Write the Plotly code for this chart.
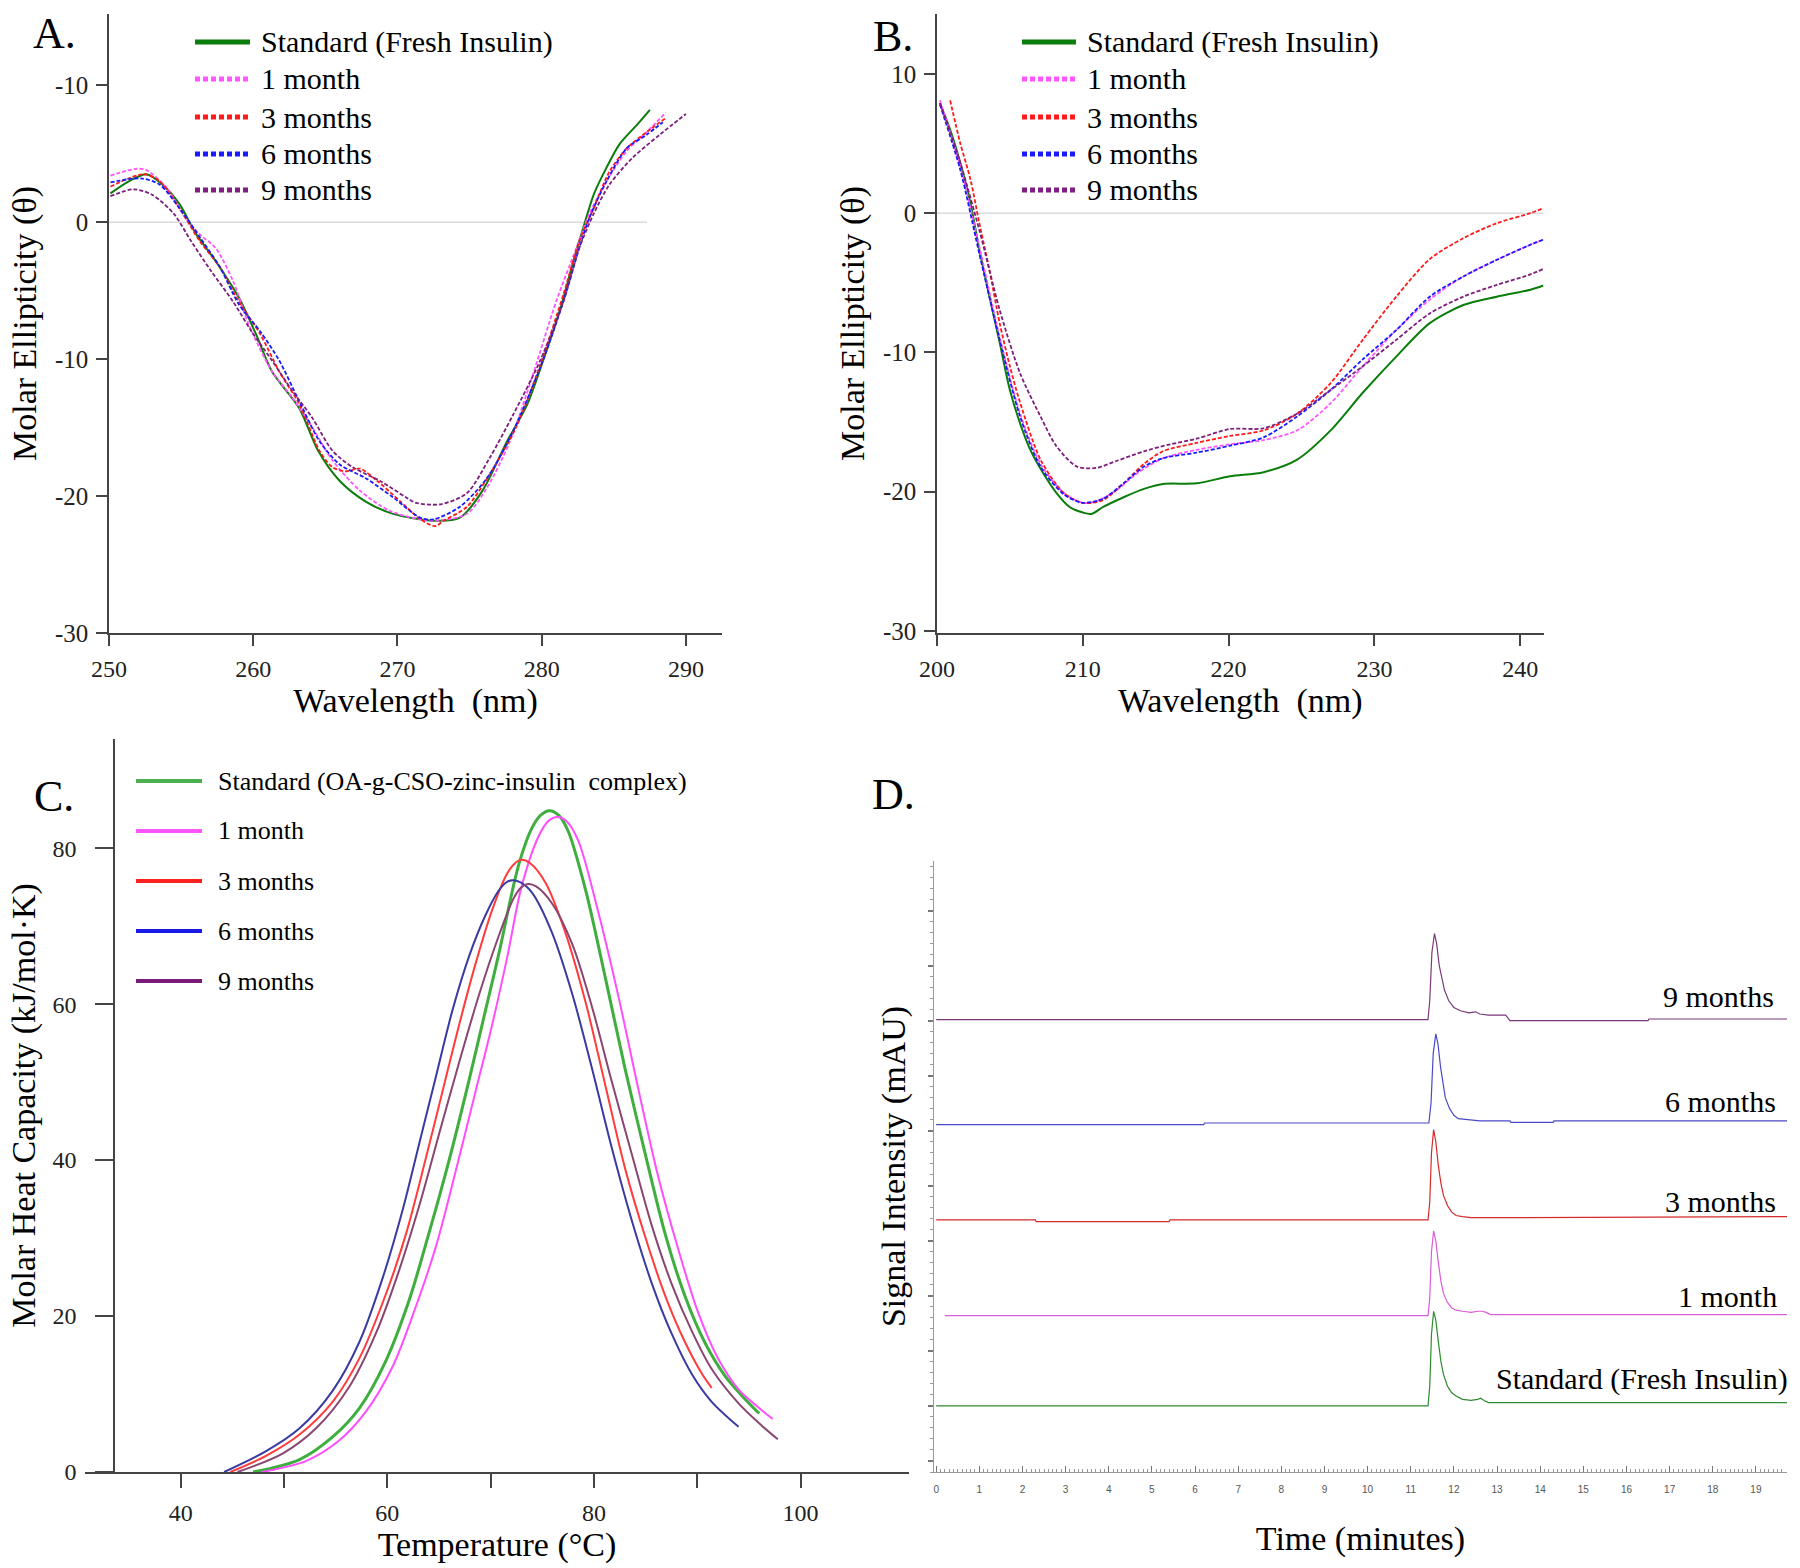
import plotly.graph_objects as go

W, H = 1800, 1568
FONT = "Liberation Serif, Times New Roman, serif"

# ---------------- Panel A : near-UV CD (250-290 nm) ----------------
A_NAMES = ["Standard (Fresh Insulin)", "1 month", "3 months", "6 months", "9 months"]
A_STD_X = [250.1, 251.4, 252.6, 253.7, 254.9, 256.0, 257.4, 259.0, 260.2, 261.3, 263.2, 264.5, 266.0, 267.8,
           269.7, 272.5, 274.3, 275.9, 277.6, 279.0, 280.1, 281.3, 282.2, 283.0, 283.6, 284.5, 285.4, 286.6, 287.5]
A_STD_Y = [2.1, 3.0, 3.5, 2.75, 1.3, -0.8, -2.85, -5.5, -8.2, -10.9, -13.6, -16.7, -18.9, -20.4,
           -21.3, -21.8, -21.6, -19.6, -16.0, -13.3, -10.1, -6.3, -2.85, 0.0, 2.0, 4.0, 5.7, 7.1, 8.2]
A_M1_X = [250.1, 251.9, 252.6, 254.0, 255.3, 256.3, 257.4, 258.6, 259.7, 261.3, 262.7, 264.1, 265.5, 267.4,
          269.5, 272.5, 274.8, 276.2, 277.8, 279.4, 281.0, 282.4, 283.3, 284.5, 285.9, 287.3, 288.6]
A_M1_Y = [3.4, 3.9, 3.8, 2.5, 0.3, -0.9, -1.9, -4.3, -7.5, -10.9, -12.8, -15.0, -17.4, -19.6,
          -21.1, -21.8, -21.3, -19.4, -16.0, -11.1, -5.8, -1.9, 0.6, 3.0, 5.2, 6.6, 8.0]
A_M3_X = [250.1, 252.4, 253.5, 254.9, 256.3, 257.7, 259.0, 260.5, 261.8, 263.2, 264.6, 265.5, 266.4, 267.4,
          268.6, 270.2, 271.6, 272.6, 273.2, 274.8, 276.4, 278.3, 279.9, 281.5, 282.6, 283.6, 284.7, 285.9,
          287.3, 288.6]
A_M3_Y = [2.6, 3.5, 3.0, 1.0, -1.4, -3.3, -5.8, -8.2, -10.9, -13.3, -16.7, -17.9, -18.2, -18.0,
          -18.9, -20.4, -21.7, -22.2, -21.8, -20.8, -18.4, -14.8, -10.4, -5.3, -1.4, 1.0, 3.7, 5.4,
          6.6, 7.6]
A_M6_X = [250.1, 252.2, 253.5, 254.9, 256.3, 257.7, 259.0, 260.5, 261.8, 263.2, 264.6, 266.0, 267.8, 269.7,
          271.6, 272.5, 274.3, 276.2, 278.0, 279.9, 281.5, 282.6, 283.3, 284.5, 285.9, 287.3, 288.4]
A_M6_Y = [2.9, 3.2, 2.75, 1.0, -1.1, -3.3, -6.0, -8.0, -10.1, -13.1, -16.0, -17.7, -18.7, -20.1,
          -21.6, -21.7, -20.8, -18.7, -15.3, -10.6, -5.8, -1.9, 0.3, 3.0, 5.4, 6.4, 7.3]
A_M9_X = [250.1, 251.7, 253.0, 254.5, 255.7, 257.1, 258.6, 259.9, 261.3, 262.7, 264.1, 265.5, 266.9, 268.8,
          270.6, 271.3, 273.0, 274.8, 276.4, 278.0, 279.9, 281.5, 282.6, 283.6, 284.7, 286.3, 288.2, 290.0]
A_M9_Y = [1.9, 2.4, 2.0, 0.6, -1.4, -3.6, -5.8, -8.0, -10.1, -12.3, -14.3, -16.7, -17.9, -18.9,
          -20.1, -20.5, -20.6, -19.8, -17.2, -14.1, -10.1, -5.8, -1.9, 0.6, 2.75, 4.7, 6.4, 7.9]
A_ZERO_X = [250, 287.3]
A_XTICKS = [250, 260, 270, 280, 290]
A_YTICKS = [-30, -20, -10, 0, 10]
A_YTEXT = ["-30", "-20", "-10", "0", "-10"]

# ---------------- Panel B : far-UV CD (200-240 nm) ----------------
B_STD_X = [200.2, 200.9, 201.6, 202.3, 202.9, 203.6, 204.3, 205.0, 205.7, 206.4, 207.3, 208.2, 209.1, 210.0,
           210.6, 211.4, 212.8, 214.2, 215.5, 217.8, 220.1, 222.4, 224.7, 227.0, 229.2, 231.5, 233.8, 236.1,
           238.4, 240.7, 241.6]
B_STD_Y = [7.9, 6.0, 3.6, 0.7, -2.6, -6.0, -9.3, -12.7, -15.1, -17.0, -18.7, -20.1, -21.1, -21.5,
           -21.6, -21.1, -20.4, -19.8, -19.45, -19.4, -18.9, -18.6, -17.7, -15.6, -12.9, -10.3, -7.9, -6.6,
           -6.0, -5.5, -5.2]
B_M1_X = [200.2, 201.6, 202.9, 204.3, 205.7, 207.1, 208.7, 210.0, 210.9, 212.3, 213.7, 215.5, 217.8, 220.1,
          222.4, 224.7, 227.0, 229.2, 231.5, 233.8, 236.1, 238.4, 240.7, 241.6]
B_M1_Y = [8.1, 3.35, -2.4, -8.9, -14.4, -18.0, -20.1, -20.8, -20.7, -19.9, -18.7, -17.6, -17.0, -16.6,
          -16.3, -15.6, -13.65, -11.0, -8.4, -6.2, -4.55, -3.35, -2.27, -1.9]
B_M3_X = [200.9, 201.6, 202.3, 202.9, 203.6, 204.3, 205.0, 205.7, 207.1, 208.7, 210.0, 211.4, 212.8, 214.2,
          215.5, 217.8, 220.1, 222.4, 224.7, 227.0, 229.2, 231.5, 233.8, 236.1, 238.4, 240.7, 241.6]
B_M3_Y = [8.1, 5.0, 2.4, -0.7, -4.1, -7.9, -11.0, -13.6, -17.7, -20.1, -20.8, -20.6, -19.4, -18.0,
          -17.1, -16.5, -16.0, -15.6, -14.4, -12.2, -9.1, -6.0, -3.3, -1.8, -0.72, 0.0, 0.36]
B_M6_X = [200.2, 201.6, 202.9, 204.3, 205.7, 207.1, 208.7, 210.0, 211.4, 212.8, 214.2, 215.5, 217.8, 220.1,
          222.4, 224.7, 227.0, 229.2, 231.5, 233.8, 236.1, 238.4, 240.7, 241.6]
B_M6_Y = [7.8, 3.1, -2.9, -9.1, -14.6, -18.2, -20.2, -20.8, -20.5, -19.4, -18.2, -17.6, -17.2, -16.7,
          -16.1, -14.6, -12.7, -10.5, -8.4, -6.0, -4.55, -3.35, -2.27, -1.9]
B_M9_X = [200.2, 201.6, 202.9, 204.3, 205.7, 207.1, 208.2, 209.6, 210.9, 212.3, 214.2, 216.0, 217.8, 220.1,
          222.4, 224.7, 227.0, 229.2, 231.5, 233.8, 236.1, 238.4, 240.7, 241.6]
B_M9_Y = [7.9, 3.6, -1.2, -6.95, -11.5, -14.6, -16.75, -18.2, -18.3, -17.8, -17.1, -16.6, -16.2, -15.5,
          -15.45, -14.4, -12.7, -11.0, -9.1, -7.2, -6.0, -5.15, -4.4, -4.0]
B_ZERO_X = [200, 241.6]
B_XTICKS = [200, 210, 220, 230, 240]
B_YTICKS = [-30, -20, -10, 0, 10]
B_YTEXT = ["-30", "-20", "-10", "0", "10"]

# ---------------- Panel C : DSC thermograms ----------------
C_NAMES = ["Standard (OA-g-CSO-zinc-insulin  complex)", "1 month", "3 months", "6 months", "9 months"]
C_STD_X = [47.0, 51.5, 54.7, 57.3, 59.8, 62.1, 64.0, 66.0, 67.9, 69.5, 70.8, 72.7, 74.0, 74.9, 75.7, 76.6,
           77.5, 79.2, 81.1, 83.0, 85.0, 86.9, 88.8, 90.7, 92.7, 94.6, 96.0]
C_STD_Y = [0.0, 1.6, 4.5, 8.2, 14.1, 22.0, 30.5, 40.1, 50.2, 59.2, 66.5, 77.8, 82.6, 84.3, 84.8, 84.2,
           82.2, 74.6, 63.4, 51.8, 40.6, 30.5, 22.6, 16.7, 12.3, 9.4, 7.5]
C_M1_X = [47.8, 52.1, 55.3, 57.9, 60.5, 62.7, 64.7, 66.6, 68.5, 70.1, 71.6, 73.0, 74.6, 75.6, 76.5, 77.4,
          78.5, 80.4, 82.4, 84.3, 86.2, 88.2, 90.1, 92.0, 94.0, 95.9, 97.3]
C_M1_Y = [0.0, 1.4, 4.0, 7.7, 13.5, 21.0, 28.9, 38.5, 48.6, 57.1, 66.0, 75.1, 81.4, 83.5, 84.0, 83.4,
          80.9, 71.9, 60.8, 49.1, 38.0, 28.4, 20.4, 14.6, 10.6, 8.3, 6.8]
C_M3_X = [44.8, 48.3, 51.5, 54.7, 57.3, 59.8, 61.8, 63.7, 65.3, 66.9, 68.5, 70.1, 71.5, 72.3, 73.0, 73.8,
          75.3, 77.2, 79.2, 81.1, 83.0, 85.0, 86.9, 88.8, 90.5, 91.4]
C_M3_Y = [0.0, 2.1, 4.8, 9.0, 14.6, 22.6, 30.5, 40.1, 48.6, 57.1, 65.0, 71.9, 76.5, 78.0, 78.5, 78.1,
          75.6, 69.3, 60.2, 49.6, 39.0, 30.0, 22.6, 16.7, 12.5, 10.8]
C_M6_X = [44.2, 48.3, 51.5, 54.7, 57.3, 59.5, 61.5, 63.1, 64.7, 66.3, 67.9, 69.5, 70.8, 71.5, 72.1, 72.9,
          74.0, 75.9, 77.9, 79.8, 81.7, 83.7, 85.6, 87.5, 89.5, 91.4, 94.0]
C_M6_Y = [0.0, 2.7, 5.6, 10.4, 16.7, 24.7, 33.7, 42.2, 50.7, 59.2, 66.1, 71.4, 74.6, 75.6, 75.9, 75.6,
          74.3, 69.3, 61.3, 51.8, 41.7, 32.1, 24.2, 17.8, 12.5, 9.0, 5.8]
C_M9_X = [45.5, 49.9, 53.1, 56.3, 58.9, 61.1, 63.1, 65.0, 66.9, 68.9, 70.8, 72.2, 72.9, 73.6, 74.4, 75.9,
          77.9, 79.8, 81.7, 83.7, 85.6, 87.5, 89.5, 91.4, 94.0, 96.2, 97.8]
C_M9_Y = [0.0, 2.4, 5.6, 10.9, 17.8, 25.7, 34.2, 43.3, 52.3, 61.3, 68.8, 73.5, 74.9, 75.4, 75.1, 73.0,
          67.7, 59.7, 50.2, 40.6, 31.6, 24.2, 18.0, 13.2, 8.8, 6.0, 4.2]
C_XTICKS = [40, 50, 60, 70, 80, 90, 100]
C_XTEXT = ["40", "", "60", "", "80", "", "100"]
C_YTICKS = [0, 20, 40, 60, 80]

# ---------------- Panel D : HPLC chromatograms (stacked, arbitrary units) ----------------
D_NAMES = ["Standard (Fresh Insulin)", "1 month", "3 months", "6 months", "9 months"]
D_STD_T = [0.0, 11.40, 11.44, 11.48, 11.53, 11.58, 11.64, 11.70, 11.76, 11.85, 11.95, 12.05, 12.20, 12.40,
           12.55, 12.62, 12.70, 12.80, 19.72]
D_STD_Y = [5.0, 5.0, 6.8, 11.5, 13.6, 12.8, 10.8, 9.0, 7.85, 6.8, 6.2, 5.9, 5.6, 5.5,
           5.6, 5.7, 5.5, 5.3, 5.3]
D_M1_T = [0.2, 11.40, 11.44, 11.48, 11.53, 11.58, 11.64, 11.70, 11.76, 11.85, 11.95, 12.05, 12.20, 12.40,
          12.55, 12.65, 12.75, 12.85, 19.72]
D_M1_Y = [13.2, 13.2, 14.8, 19.0, 20.9, 20.0, 18.0, 16.3, 15.2, 14.4, 13.9, 13.7, 13.6, 13.5,
          13.6, 13.6, 13.5, 13.3, 13.3]
D_M3_T = [0.0, 2.30, 2.32, 5.40, 5.42, 11.40, 11.44, 11.48, 11.53, 11.58, 11.64, 11.70, 11.76, 11.85,
          11.95, 12.05, 12.20, 12.40, 13.00, 19.72]
D_M3_Y = [21.9, 21.9, 21.75, 21.75, 21.9, 21.9, 23.5, 28.0, 30.1, 29.0, 26.8, 25.2, 24.1, 23.2,
          22.6, 22.3, 22.2, 22.1, 22.1, 22.2]
D_M6_T = [0.0, 6.20, 6.22, 11.42, 11.47, 11.52, 11.58, 11.63, 11.69, 11.75, 11.80, 11.90, 12.00, 12.10,
          12.30, 12.60, 13.30, 13.32, 14.30, 14.32, 19.72]
D_M6_Y = [30.55, 30.55, 30.7, 30.7, 32.5, 37.0, 38.8, 37.9, 35.8, 34.0, 33.0, 32.0, 31.4, 31.1,
          31.0, 30.9, 30.9, 30.75, 30.75, 30.9, 30.9]
D_M9_T = [0.0, 11.40, 11.44, 11.49, 11.55, 11.60, 11.66, 11.72, 11.78, 11.88, 12.00, 12.15, 12.35, 12.50,
          12.60, 12.80, 13.20, 13.30, 16.50, 16.52, 19.72]
D_M9_Y = [40.1, 40.1, 41.8, 46.2, 47.9, 47.0, 45.0, 43.8, 42.8, 41.8, 41.2, 40.9, 40.7, 40.8,
          40.6, 40.5, 40.5, 40.0, 40.0, 40.15, 40.15]

# ---------------- styles ----------------
AB_COLORS = ["#0a7d0a", "#ff55ff", "#ff1a1a", "#1a1aff", "#7d1f7d"]
C_COLORS = ["#3fae3f", "#ff4dff", "#ff3b3b", "#3a3aa0", "#8a4570"]
C_LEG_COLORS = ["#4caf50", "#ff55ff", "#ff2020", "#1a1ae6", "#7a1a7a"]
D_COLORS = ["#2e8b2e", "#d95cd9", "#d42a2a", "#4a4ac8", "#7a3a7a"]

def px(x):
    return x / W

def py(y):
    return 1 - y / H

fig = go.Figure()

# ---- A traces
A_SERIES = [(A_STD_X, A_STD_Y), (A_M1_X, A_M1_Y), (A_M3_X, A_M3_Y), (A_M6_X, A_M6_Y), (A_M9_X, A_M9_Y)]
fig.add_trace(go.Scatter(x=A_ZERO_X, y=[0, 0], mode="lines", line=dict(color="#c8c8c8", width=1),
                         xaxis="x", yaxis="y", showlegend=False, hoverinfo="skip"))
for i, (xs, ys) in enumerate(A_SERIES):
    fig.add_trace(go.Scatter(x=xs, y=ys, mode="lines", name=A_NAMES[i], showlegend=False,
                             line=dict(color=AB_COLORS[i], width=2 if i == 0 else 1.8,
                                       dash="solid" if i == 0 else "4px,2px", shape="spline", smoothing=0.8),
                             xaxis="x", yaxis="y"))

# ---- B traces
B_SERIES = [(B_STD_X, B_STD_Y), (B_M1_X, B_M1_Y), (B_M3_X, B_M3_Y), (B_M6_X, B_M6_Y), (B_M9_X, B_M9_Y)]
fig.add_trace(go.Scatter(x=B_ZERO_X, y=[0, 0], mode="lines", line=dict(color="#c8c8c8", width=1),
                         xaxis="x2", yaxis="y2", showlegend=False, hoverinfo="skip"))
for i, (xs, ys) in enumerate(B_SERIES):
    fig.add_trace(go.Scatter(x=xs, y=ys, mode="lines", name=A_NAMES[i], showlegend=False,
                             line=dict(color=AB_COLORS[i], width=2 if i == 0 else 1.8,
                                       dash="solid" if i == 0 else "4px,2px", shape="spline", smoothing=0.8),
                             xaxis="x2", yaxis="y2"))

# ---- C traces
C_SERIES = [(C_STD_X, C_STD_Y), (C_M1_X, C_M1_Y), (C_M3_X, C_M3_Y), (C_M6_X, C_M6_Y), (C_M9_X, C_M9_Y)]
for i, (xs, ys) in enumerate(C_SERIES):
    fig.add_trace(go.Scatter(x=xs, y=ys, mode="lines", name=C_NAMES[i], showlegend=False,
                             line=dict(color=C_COLORS[i], width=3 if i == 0 else 2, shape="spline", smoothing=0.9),
                             xaxis="x3", yaxis="y3"))

# ---- D traces
D_SERIES = [(D_STD_T, D_STD_Y), (D_M1_T, D_M1_Y), (D_M3_T, D_M3_Y), (D_M6_T, D_M6_Y), (D_M9_T, D_M9_Y)]
for i, (xs, ys) in enumerate(D_SERIES):
    fig.add_trace(go.Scatter(x=xs, y=ys, mode="lines", name=D_NAMES[i], showlegend=False,
                             line=dict(color=D_COLORS[i], width=1.2), xaxis="x4", yaxis="y4"))

# ---- manual legends (line sample + text)
shapes = []
annotations = []

def add_legend(names, colors, x0, x1, xt, rows, width_fn, dash_fn, size):
    for i, name in enumerate(names):
        shapes.append(dict(type="line", xref="paper", yref="paper", x0=px(x0), x1=px(x1),
                           y0=py(rows[i]), y1=py(rows[i]),
                           line=dict(color=colors[i], width=width_fn(i), dash=dash_fn(i))))
        annotations.append(dict(text=name, xref="paper", yref="paper", x=px(xt), y=py(rows[i]),
                                xanchor="left", yanchor="middle", showarrow=False,
                                font=dict(family=FONT, size=size, color="black")))

ab_w = lambda i: 5
ab_d = lambda i: "solid" if i == 0 else "5px,3px"
add_legend(A_NAMES, AB_COLORS, 195, 250, 259, [42, 79, 117, 154, 190], ab_w, ab_d, 30)
add_legend(A_NAMES, AB_COLORS, 1022, 1076, 1085, [42, 79, 117, 154, 190], ab_w, ab_d, 30)
add_legend(C_NAMES, C_LEG_COLORS, 136, 202, 216, [781, 831, 881, 931, 981], lambda i: 4, lambda i: "solid", 26)

# ---- panel letters
for txt, cx, cy in [("A.", 54, 34), ("B.", 893, 36), ("C.", 54, 796), ("D.", 893, 795)]:
    annotations.append(dict(text=txt, xref="paper", yref="paper", x=px(cx), y=py(cy), xanchor="center",
                            yanchor="middle", showarrow=False, font=dict(family=FONT, size=44, color="black")))

# ---- D trace labels
for txt, xr, yc in [("9 months", 1776, 996), ("6 months", 1778, 1101), ("3 months", 1778, 1201),
                    ("1 month", 1779, 1296), ("Standard (Fresh Insulin)", 1790, 1379)]:
    annotations.append(dict(text=txt, xref="paper", yref="paper", x=px(xr), y=py(yc), xanchor="right",
                            yanchor="middle", showarrow=False, font=dict(family=FONT, size=30, color="black")))

AX = "#444444"
tick_font = dict(family=FONT, size=24, color="#222222")
title_font = dict(family=FONT, size=34, color="black")

fig.update_layout(
    width=W, height=H, margin=dict(l=0, r=0, t=0, b=0),
    paper_bgcolor="white", plot_bgcolor="white", showlegend=False,
    shapes=shapes, annotations=annotations,
    xaxis=dict(domain=[px(109), px(722)], range=[250, 292.5], anchor="y", automargin=False,
               tickvals=A_XTICKS, ticks="outside", ticklen=11, tickcolor=AX, tickwidth=1.5,
               showline=True, linecolor=AX, linewidth=1.5, showgrid=False, zeroline=False,
               tickfont=tick_font, ticklabelstandoff=2,
               title=dict(text="Wavelength  (nm)", font=title_font, standoff=0)),
    yaxis=dict(domain=[py(633), py(14)], range=[-30, 15.2], anchor="x", automargin=False,
               tickvals=A_YTICKS, ticktext=A_YTEXT, ticks="outside", ticklen=11, tickcolor=AX, tickwidth=1.5,
               showline=True, linecolor=AX, linewidth=1.5, showgrid=False, zeroline=False,
               tickfont=dict(family=FONT, size=25, color="#222222"), ticklabelstandoff=3,
               title=dict(text="Molar Ellipticity (\u03b8)", font=title_font, standoff=8)),
    xaxis2=dict(domain=[px(937), px(1543.5)], range=[200, 241.6], anchor="y2", automargin=False,
                tickvals=B_XTICKS, ticks="outside", ticklen=11, tickcolor=AX, tickwidth=1.5,
                showline=True, linecolor=AX, linewidth=1.5, showgrid=False, zeroline=False,
                tickfont=tick_font, ticklabelstandoff=2,
                title=dict(text="Wavelength  (nm)", font=title_font, standoff=0)),
    yaxis2=dict(domain=[py(633), py(14)], range=[-30.15, 14.3], anchor="x2", automargin=False,
                tickvals=B_YTICKS, ticktext=B_YTEXT, ticks="outside", ticklen=11, tickcolor=AX, tickwidth=1.5,
                showline=True, linecolor=AX, linewidth=1.5, showgrid=False, zeroline=False,
                tickfont=dict(family=FONT, size=25, color="#222222"), ticklabelstandoff=3,
                title=dict(text="Molar Ellipticity (\u03b8)", font=title_font, standoff=8)),
    xaxis3=dict(domain=[px(85), px(909)], range=[30.73, 110.5], anchor="y3", automargin=False,
                tickvals=C_XTICKS, ticktext=C_XTEXT, ticks="outside", ticklen=14, tickcolor=AX, tickwidth=1.5,
                showline=True, linecolor=AX, linewidth=1.5, showgrid=False, zeroline=False,
                tickfont=tick_font, ticklabelstandoff=4,
                title=dict(text="Temperature (\u00b0C)", font=title_font, standoff=0)),
    yaxis3=dict(domain=[py(1472), py(739)], range=[0, 94], anchor="free", position=px(114), automargin=False,
                tickvals=C_YTICKS, ticks="outside", ticklen=18, tickcolor=AX, tickwidth=1.5,
                showline=True, linecolor=AX, linewidth=1.5, showgrid=False, zeroline=False,
                tickfont=tick_font, ticklabelstandoff=14,
                title=dict(text="Molar Heat Capacity (kJ/mol\u00b7K)", font=title_font, standoff=6)),
    xaxis4=dict(domain=[px(934), px(1787)], range=[-0.05, 19.72], anchor="y4", automargin=False,
                tick0=0, dtick=1, ticks="inside", ticklen=6, tickcolor="#777777", tickwidth=1,
                minor=dict(dtick=0.1, ticks="inside", ticklen=3, tickcolor="#999999", tickwidth=1),
                showline=True, linecolor="#999999", linewidth=1, showgrid=False, zeroline=False,
                tickfont=dict(family="Liberation Sans Narrow, Liberation Sans, sans-serif", size=10, color="#555555"),
                ticklabelstandoff=8,
                title=dict(text="Time (minutes)", font=title_font, standoff=32)),
    yaxis4=dict(domain=[py(1472), py(861)], range=[-1, 54.5], anchor="x4", automargin=False,
                tick0=0, dtick=5, ticks="outside", ticklen=5, tickcolor="#777777", tickwidth=1.5,
                minor=dict(dtick=1, ticks="outside", ticklen=3, tickcolor="#999999", tickwidth=1),
                showticklabels=False,
                showline=True, linecolor="#999999", linewidth=1, showgrid=False, zeroline=False,
                title=dict(text="Signal Intensity (mAU)", font=title_font, standoff=12)),
)

fig.write_html("out.html", config={"displayModeBar": False},
               post_script="document.body.style.margin='0';document.body.style.overflow='hidden';")
